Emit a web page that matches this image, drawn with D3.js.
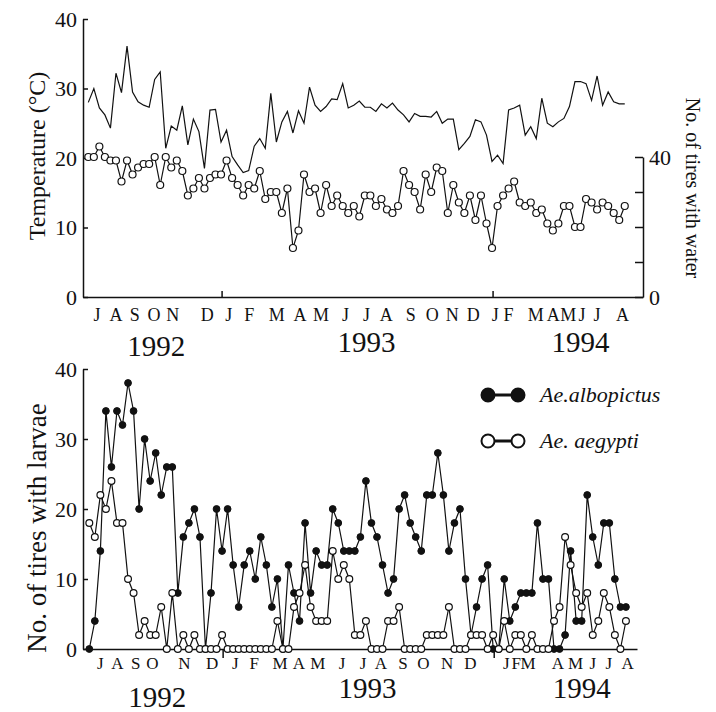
<!DOCTYPE html>
<html>
<head>
  <meta charset="utf-8">
  <title>Temperature, tires with water and tires with larvae</title>
<script src="https://d3js.org/d3.v7.min.js"></script>
  <style>
    body { margin: 0; background: #fff; }
    svg text { font-family: "Liberation Serif", "Times New Roman", serif; fill: #111; }
    .axis path, .axis line { stroke: #111; stroke-width: 1.5px; }
    .series { fill: none; stroke: #111; stroke-width: 1.2px; }
  </style>
</head>
<body>
  <script>
    // one value per sampling date (same order for every series)
    const temperature = [
      28.0, 30.0, 27.2, 26.2, 24.3, 32.2, 29.4, 36.1, 29.5, 28.1,
      27.6, 27.3, 31.3, 32.4, 21.4, 24.6, 24.0, 27.5, 21.9, 25.6,
      23.8, 18.5, 26.9, 27.0, 22.3, 24.0, 20.2, 19.0, 17.9, 18.2,
      21.7, 22.8, 21.4, 29.3, 22.3, 25.2, 26.7, 23.6, 26.8, 25.0,
      30.2, 27.6, 26.7, 27.4, 28.5, 28.4, 30.7, 27.2, 27.6, 28.2,
      27.3, 27.3, 26.7, 27.8, 27.2, 27.9, 26.9, 26.2, 25.2, 26.4,
      26.0, 26.0, 25.9, 26.7, 25.0, 25.6, 25.6, 21.2, 22.1, 23.1,
      25.5, 25.2, 23.3, 19.5, 20.4, 19.2, 26.9, 27.2, 27.6, 23.3,
      24.5, 22.8, 28.6, 25.0, 24.5, 25.2, 25.7, 27.4, 31.0, 31.0,
      30.7, 28.3, 31.8, 27.6, 29.5, 28.1, 27.8, 27.8
    ];
    const tiresWater = [
      40, 40, 43, 40, 39, 39, 33, 39, 35, 37,
      38, 38, 40, 32, 40, 37, 39, 36, 29, 31,
      34, 31, 34, 35, 35, 39, 34, 32, 29, 32,
      31, 36, 28, 30, 30, 24, 31, 14, 19, 35,
      30, 31, 24, 32, 26, 29, 26, 24, 26, 23,
      29, 29, 26, 28, 25, 24, 26, 36, 32, 30,
      25, 35, 30, 37, 36, 24, 32, 27, 24, 29,
      22, 29, 21, 14, 26, 29, 31, 33, 27, 26,
      27, 24, 25, 21, 19, 21, 26, 26, 20, 20,
      28, 27, 25, 27, 26, 24, 22, 26
    ];
    const albopictus = [
      0, 4, 14, 34, 26, 34, 32, 38, 34, 20,
      30, 24, 28, 22, 26, 26, 8, 16, 18, 20,
      16, 0, 8, 20, 14, 20, 12, 6, 12, 14,
      10, 16, 12, 6, 10, 0, 12, 8, 4, 18,
      8, 14, 12, 12, 20, 18, 14, 14, 14, 16,
      24, 18, 16, 12, 8, 10, 20, 22, 18, 16,
      14, 22, 22, 28, 22, 14, 18, 20, 10, 2,
      6, 10, 12, 0, 0, 10, 4, 6, 8, 8,
      8, 18, 10, 10, 0, 0, 2, 14, 4, 4,
      22, 16, 12, 18, 18, 10, 6, 6
    ];
    const aegypti = [
      18, 16, 22, 20, 24, 18, 18, 10, 8, 2,
      4, 2, 2, 6, 0, 8, 0, 2, 0, 2,
      0, 0, 0, 0, 2, 0, 0, 0, 0, 0,
      0, 0, 0, 0, 4, 0, 0, 6, 8, 12,
      6, 4, 4, 4, 14, 10, 12, 10, 2, 2,
      4, 0, 0, 0, 4, 4, 6, 0, 0, 0,
      0, 2, 2, 2, 2, 6, 0, 0, 0, 2,
      2, 2, 0, 2, 0, 4, 0, 2, 2, 0,
      2, 0, 0, 0, 4, 6, 16, 12, 8, 6,
      8, 2, 4, 8, 6, 2, 0, 4
    ];

    // month labels, placed at the sample index where they sit
    const topMonths = ["J","A","S","O","N","D","J","F","M","A","M","J","J","A","S","O","N","D","J","F","M","A","M","J","J","A"];
    const topMonthAt = [1.5, 4.9, 8.3, 11.8, 15.2, 21.4, 25.3, 29.0, 34.0, 38.2, 42.0, 46.4, 50.2, 53.8, 58.2, 62.1, 65.7, 69.5, 73.5, 75.9, 80.8, 84.0, 86.7, 89.2, 91.9, 96.5];
    const botMonths = ["J","A","S","O","N","D","J","F","M","A","M","J","J","A","S","O","N","D","J","F","M","A","M","J","J","A"];
    const botMonthAt = [1.9, 5.0, 8.3, 11.3, 17.1, 22.1, 26.3, 29.7, 34.4, 37.8, 41.2, 45.6, 49.4, 52.6, 56.6, 60.3, 64.6, 68.8, 75.3, 77.1, 79.2, 84.6, 87.8, 90.9, 93.8, 97.2];
    const years = ["1992", "1993", "1994"];
    const yearAt = [12.3, 50.3, 89];
    const yearBreaks = [24.1, 73.1];

    const W = 716, H = 712;
    const svg = d3.select("body").append("svg")
        .attr("width", W)
        .attr("height", H);

    const xTop = d3.scaleLinear().domain([-0.96, 100.3]).range([83, 643]);
    const yTemp = d3.scaleLinear().domain([0, 40]).range([297, 19]);
    const yWater = d3.scaleLinear().domain([0, 40]).range([297, 157]);
    const xBot = d3.scaleLinear().domain([-1.14, 99]).range([83, 637]);
    const yLarv = d3.scaleLinear().domain([0, 40]).range([649, 369]);

    // ---- top panel ----
    svg.append("g").attr("class", "axis")
        .attr("transform", "translate(83,0)")
        .call(d3.axisLeft(yTemp).tickValues([0, 10, 20, 30, 40]).tickSize(-5).tickSizeOuter(0).tickPadding(6))
        .selectAll("text").style("font-size", "22px");

    svg.append("g").attr("class", "axis")
        .attr("transform", "translate(643,0)")
        .call(d3.axisRight(yWater).tickValues([0, 10, 20, 30, 40]).tickSize(-8).tickSizeOuter(0).tickPadding(6)
          .tickFormat(d => (d === 0 || d === 40) ? d : ""))
        .selectAll("text").style("font-size", "22px");

    svg.append("g").attr("class", "axis")
        .attr("transform", "translate(0,297)")
        .call(d3.axisBottom(xTop).tickValues(yearBreaks).tickSize(-6).tickSizeOuter(0).tickFormat(""));

    svg.append("g").attr("class", "axis")
        .attr("transform", "translate(0,308)")
        .call(d3.axisBottom(xTop).tickValues(topMonthAt).tickSize(0).tickPadding(0)
          .tickFormat((d, i) => topMonths[i]))
        .call(g => g.select(".domain").remove())
        .selectAll("text").style("font-size", "18px");

    svg.append("path")
        .datum(temperature)
        .attr("class", "series")
        .attr("stroke-width", 1.3)
        .attr("d", d3.line().x((d, i) => xTop(i)).y(d => yTemp(d)));

    svg.append("path")
        .datum(tiresWater)
        .attr("class", "series")
        .attr("d", d3.line().x((d, i) => xTop(i)).y(d => yWater(d)));

    svg.append("g").selectAll("circle")
        .data(tiresWater)
        .enter().append("circle")
        .attr("cx", (d, i) => xTop(i))
        .attr("cy", d => yWater(d))
        .attr("r", 3.5)
        .attr("fill", "#fff")
        .attr("stroke", "#111")
        .attr("stroke-width", 1.2);

    svg.append("g").selectAll("text")
        .data(years)
        .enter().append("text")
        .attr("x", (d, i) => xTop(yearAt[i]))
        .attr("y", (d, i) => i === 0 ? 356 : 352)
        .attr("text-anchor", "middle")
        .style("font-size", "29px")
        .text(d => d);

    svg.append("text")
        .attr("transform", "translate(45,156) rotate(-90)")
        .attr("text-anchor", "middle")
        .style("font-size", "24px")
        .text("Temperature (°C)");

    svg.append("text")
        .attr("transform", "translate(686,188) rotate(90)")
        .attr("text-anchor", "middle")
        .style("font-size", "20px")
        .text("No. of tires with water");

    // ---- bottom panel ----
    svg.append("g").attr("class", "axis")
        .attr("transform", "translate(83,0)")
        .call(d3.axisLeft(yLarv).tickValues([0, 10, 20, 30, 40]).tickSize(-5).tickSizeOuter(0).tickPadding(6))
        .selectAll("text").style("font-size", "22px");

    svg.append("g").attr("class", "axis")
        .attr("transform", "translate(0,649)")
        .call(d3.axisBottom(xBot).tickValues(yearBreaks).tickSize(9).tickSizeOuter(0).tickFormat(""));

    svg.append("g").attr("class", "axis")
        .attr("transform", "translate(0,657)")
        .call(d3.axisBottom(xBot).tickValues(botMonthAt).tickSize(0).tickPadding(0)
          .tickFormat((d, i) => botMonths[i]))
        .call(g => g.select(".domain").remove())
        .selectAll("text").style("font-size", "17px");

    const larvLine = d3.line().x((d, i) => xBot(i)).y(d => yLarv(d));

    svg.append("path").datum(albopictus).attr("class", "series").attr("d", larvLine);
    svg.append("path").datum(aegypti).attr("class", "series").attr("d", larvLine);

    svg.append("g").selectAll("circle")
        .data(albopictus)
        .enter().append("circle")
        .attr("cx", (d, i) => xBot(i))
        .attr("cy", d => yLarv(d))
        .attr("r", 3.4)
        .attr("fill", "#111")
        .attr("stroke", "#111")
        .attr("stroke-width", 1);

    svg.append("g").selectAll("circle")
        .data(aegypti)
        .enter().append("circle")
        .attr("cx", (d, i) => xBot(i))
        .attr("cy", d => yLarv(d))
        .attr("r", 3.4)
        .attr("fill", "#fff")
        .attr("stroke", "#111")
        .attr("stroke-width", 1.2);

    svg.append("g").selectAll("text")
        .data(years)
        .enter().append("text")
        .attr("x", (d, i) => xBot(yearAt[i]))
        .attr("y", (d, i) => i === 0 ? 707 : 698)
        .attr("text-anchor", "middle")
        .style("font-size", "29px")
        .text(d => d);

    svg.append("text")
        .attr("transform", "translate(46,528) rotate(-90)")
        .attr("text-anchor", "middle")
        .style("font-size", "27px")
        .text("No. of tires with larvae");

    // legend
    const legend = [
      { name: "Ae.albopictus", fill: "#111", y: 395 },
      { name: "Ae. aegypti", fill: "#fff", y: 441 }
    ];
    const lg = svg.append("g").selectAll("g")
        .data(legend)
        .enter().append("g")
        .attr("transform", d => "translate(0," + d.y + ")");
    lg.append("line")
        .attr("x1", 488).attr("x2", 518)
        .attr("stroke", "#111").attr("stroke-width", 3);
    lg.selectAll("circle")
        .data(d => [488, 518].map(x => ({ x: x, fill: d.fill })))
        .enter().append("circle")
        .attr("cx", d => d.x)
        .attr("r", 6.5)
        .attr("fill", d => d.fill)
        .attr("stroke", "#111")
        .attr("stroke-width", 2);
    lg.append("text")
        .attr("x", 540)
        .attr("y", 7)
        .style("font-size", "22px")
        .style("font-style", "italic")
        .text(d => d.name);
  </script>
</body>
</html>
